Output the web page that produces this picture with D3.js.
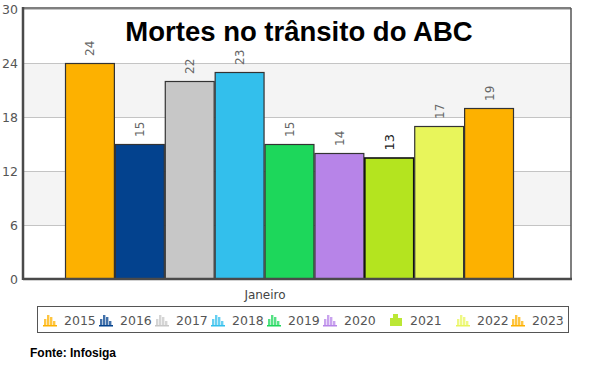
<!DOCTYPE html>
<html><head><meta charset="utf-8">
<script src="https://cdn.jsdelivr.net/npm/d3@7/dist/d3.min.js"></script>
<style>body{margin:0;background:#fff}svg{display:block}</style>
</head><body>
<svg id="c" width="589" height="368"></svg>
<script>
const categories = ["Janeiro"];
const years = ["2015","2016","2017","2018","2019","2020","2021","2022","2023"];
const values = [24, 15, 22, 23, 15, 14, 13.5, 17, 19];
const valueLabels = ["24","15","22","23","15","14","13","17","19"];
const colors = ["#fdb100","#03428e","#c7c7c7","#33bfec","#1dd75b","#b784e8","#b4e41f","#e8f55b","#fdb100"];
const yTicks = [0, 6, 12, 18, 24, 30];
const title = "Mortes no trânsito do ABC";
const source = "Fonte: Infosiga";

const svg = d3.select("#c");
const L = 23, R = 571, T = 9, B = 279;
const y = d3.scaleLinear().domain([0, 30]).range([B, T]);
const xCat = d3.scaleBand().domain(categories).range([L, R]);
const x = d3.scaleBand().domain(years).range([65, 514]).paddingInner(0);

// alternating bands
const bands = [[6,12],[18,24]];
svg.selectAll("rect.band").data(bands).enter().append("rect")
  .attr("x", L).attr("width", R - L)
  .attr("y", d => y(d[1])).attr("height", d => y(d[0]) - y(d[1]))
  .attr("fill", "#f4f4f4");

// gridlines
const yAxis = d3.axisLeft(y).tickValues(yTicks).tickSize(-(R - L)).tickFormat(d => d);
const gy = svg.append("g").attr("transform", `translate(${L},0)`).call(yAxis);
gy.select(".domain").remove();
gy.selectAll(".tick line").attr("stroke", "#c4c4c4").attr("stroke-width", 1);
gy.selectAll(".tick text").attr("x", -5).attr("fill", "#555")
  .style("font-family", "'DejaVu Sans', Verdana, sans-serif").style("font-size", "12.5px");

// bars
svg.selectAll("rect.bar").data(values).enter().append("rect")
  .attr("x", (d, i) => x(years[i]) + 0.5)
  .attr("width", x.bandwidth() - 1)
  .attr("y", d => y(d) + 0.5)
  .attr("height", d => y(0) - y(d) - 0.5)
  .attr("fill", (d, i) => colors[i])
  .attr("stroke", (d, i) => i === 6 ? "#111" : "#333")
  .attr("stroke-width", (d, i) => i === 6 ? 1.6 : 1.2);

// value labels
svg.selectAll("text.val").data(values).enter().append("text")
  .attr("transform", (d, i) => `translate(${x(years[i]) + x.bandwidth() / 2 + 4.5},${y(d) - 7}) rotate(-90)`)
  .attr("text-anchor", "start")
  .attr("fill", (d, i) => i === 6 ? "#222" : "#666")
  .style("font-family", "'DejaVu Sans', Verdana, sans-serif")
  .style("font-size", (d, i) => i === 6 ? "13px" : "12px")
  .text((d, i) => valueLabels[i]);

// frame
svg.append("line").attr("x1", L).attr("x2", R).attr("y1", T - 1).attr("y2", T - 1).attr("stroke", "#555").attr("stroke-width", 1.5);
svg.append("line").attr("x1", R).attr("x2", R).attr("y1", T - 1).attr("y2", B).attr("stroke", "#555").attr("stroke-width", 1.5);
svg.append("line").attr("x1", L).attr("x2", L).attr("y1", T - 2).attr("y2", B + 1).attr("stroke", "#4a4a4a").attr("stroke-width", 2.5);
svg.append("line").attr("x1", L).attr("x2", R + 1).attr("y1", B).attr("y2", B).attr("stroke", "#4a4a4a").attr("stroke-width", 2.5);

// category label
svg.selectAll("text.cat").data(categories).enter().append("text")
  .attr("x", 265).attr("y", 299).attr("text-anchor", "middle")
  .attr("fill", "#444")
  .style("font-family", "'DejaVu Sans', Verdana, sans-serif").style("font-size", "12px")
  .text(d => d);

// title
svg.append("text").attr("x", 299).attr("y", 41).attr("text-anchor", "middle")
  .style("font-family", "'Liberation Sans', Arial, sans-serif").style("font-weight", "bold")
  .style("font-size", "27.5px").attr("fill", "#000").text(title);

// legend
svg.append("rect").attr("x", 37.5).attr("y", 306.5).attr("width", 531).attr("height", 26)
  .attr("fill", "#fff").attr("stroke", "#555").attr("stroke-width", 1);
const legX = [43, 99, 155, 211, 267, 323, 389, 456, 511];
const leg = svg.selectAll("g.leg").data(years).enter().append("g")
  .attr("transform", (d, i) => `translate(${legX[i]},312)`);
leg.each(function(d, i) {
  const g = d3.select(this);
  const c = colors[i];
  if (i === 6) {
    g.append("path").attr("d", "M1,14 L1,6 L4,6 L4,2 L9,2 L9,6 L13,6 L13,14 Z").attr("fill", c).attr("opacity", 0.9);
  } else {
    const hs = [7, 11, 9, 5];
    hs.forEach((h, k) => g.append("rect").attr("x", 1 + k * 3).attr("y", 14 - h).attr("width", 2.4).attr("height", h)
      .attr("fill", c).attr("opacity", 0.75));
    g.append("rect").attr("x", 0).attr("y", 13).attr("width", 14).attr("height", 1.5).attr("fill", c);
  }
  g.append("text").attr("x", 21).attr("y", 12.5).attr("fill", "#555")
    .style("font-family", "'DejaVu Sans', Verdana, sans-serif").style("font-size", "12.5px").text(d);
});

// source
svg.append("text").attr("x", 30).attr("y", 357)
  .style("font-family", "'Liberation Sans Narrow', 'Liberation Sans', Arial, sans-serif").style("font-weight", "bold")
  .style("font-size", "12px").attr("fill", "#000").text(source);
</script>
</body></html>
